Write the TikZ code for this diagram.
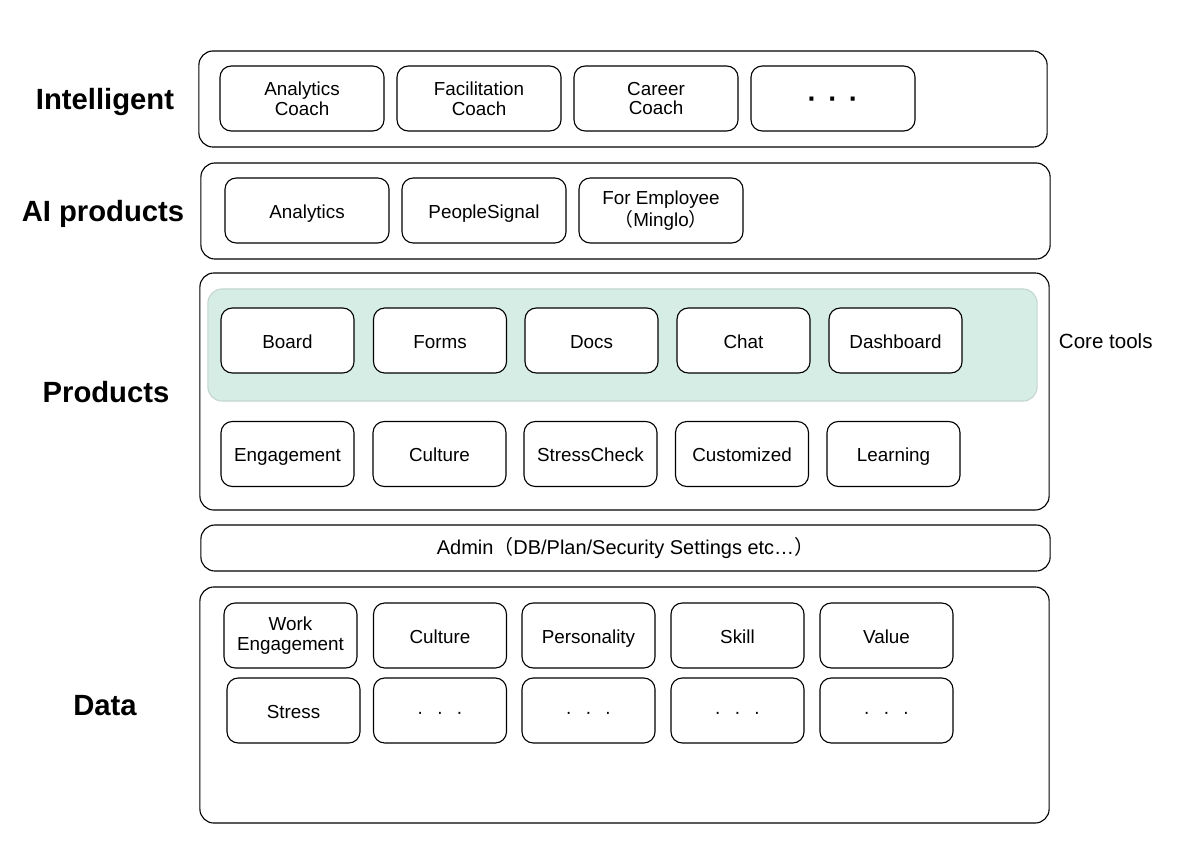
\documentclass[tikz,border=0pt]{standalone}
\usepackage{fontspec}
\setmainfont{Liberation Sans}
\newfontfamily\cjk{Noto Sans CJK JP}
\usetikzlibrary{positioning}

\definecolor{coregreen}{HTML}{D6EDE6}
\definecolor{coreedge}{HTML}{C5D6D0}

\begin{document}
\begin{tikzpicture}[
    x=0.025cm, y=-0.025cm,
    layer/.style={draw, thick, rounded corners=10pt, inner sep=0pt, outer sep=0pt},
    layertitle/.style={font=\fontsize{20.8}{24}\selectfont\bfseries,
        text height=16pt, text depth=1.1pt},
    item/.style={draw, thick, fill=white, rounded corners=8pt, align=center,
        minimum height=1.625cm, inner sep=0pt,
        font=\fontsize{13.4}{14}\selectfont},
    oneline/.style={text height=12pt, text depth=1.3pt},
    wideitem/.style={item, minimum width=4.1cm},
    smallitem/.style={item, minimum width=3.325cm},
    corepanel/.style={fill=coregreen, draw=coreedge, thick, rounded corners=10pt,
        inner sep=0pt, outer sep=0pt}
]

% ---------- Frame ----------
\useasboundingbox (0,0) rectangle (1200,861);

% ---------- Parameters ----------
\def\dots{{\fontsize{13.4}{14}\selectfont ·\hspace{9.5pt}·\hspace{9.5pt}·}}
\def\bigdots{\raisebox{-1.9pt}{\fontsize{20}{20}\selectfont\bfseries ·\hspace{8pt}·\hspace{8pt}·}}

% ---------- Layers ----------
\node[layer, minimum width=21.2cm, minimum height=2.4cm] (intel) at (623,99) {};
\node[layer, minimum width=21.225cm, minimum height=2.4cm] (ai) at (625.5,211) {};
\node[layer, minimum width=21.225cm, minimum height=5.925cm] (prod) at (624.5,391.5) {};
\node[layer, minimum width=21.225cm, minimum height=1.15cm,
    font=\fontsize{14.2}{15}\selectfont] (admin) at (625.5,548)
    {Admin{\cjk （}DB/Plan/Security Settings etc…{\cjk ）}};
\node[layer, minimum width=21.225cm, minimum height=5.9cm] (data) at (624.5,705) {};

% ---------- Layer titles ----------
\node[layertitle] (intellabel) at (105,99) {Intelligent};
\node[layertitle] (ailabel) at (103,211) {AI products};
\node[layertitle] (prodlabel) at (106,392) {Products};
\node[layertitle] (datalabel) at (105,705) {Data};

% ---------- Intelligent ----------
\node[wideitem] (acoach) at (302,98.5) {Analytics\\Coach};
\node[wideitem] (fcoach) at (479,98.5) {Facilitation\\Coach};
\node[wideitem] (ccoach) at (656,98.5) {Career\\Coach};
\node[wideitem, oneline] (morecoach) at (833,98.5) {\bigdots};

% ---------- AI products ----------
\node[wideitem, oneline] (analytics) at (307,210.5) {Analytics};
\node[wideitem, oneline] (signal) at (484,210.5) {PeopleSignal};
\node[wideitem] (employee) at (661,210.5) {For Employee\\{\cjk （}Minglo{\cjk ）}};

% ---------- Products: core tools ----------
\node[corepanel, minimum width=20.725cm, minimum height=2.8cm] (core) at (622.5,345) {};
\node[font=\fontsize{14.6}{16}\selectfont, anchor=west] (corelabel) at (1054,341) {Core tools};

\node[smallitem, oneline] (board) at (287.5,340.5) {Board};
\node[smallitem, oneline] (forms) at (440,340.5) {Forms};
\node[smallitem, oneline] (docs) at (591.5,340.5) {Docs};
\node[smallitem, oneline] (chat) at (743.5,340.5) {Chat};
\node[smallitem, oneline] (dashboard) at (895.5,340.5) {Dashboard};

% ---------- Products: modules ----------
\node[smallitem, oneline] (engagement) at (287.5,454) {Engagement};
\node[smallitem, oneline] (culture) at (439.5,454) {Culture};
\node[smallitem, oneline] (stresscheck) at (590.5,454) {StressCheck};
\node[smallitem, oneline] (customized) at (742,454) {Customized};
\node[smallitem, oneline] (learning) at (893.5,454) {Learning};

% ---------- Data ----------
\node[smallitem] (workeng) at (290.5,635.5) {Work\\Engagement};
\node[smallitem, oneline] (dculture) at (440,635.5) {Culture};
\node[smallitem, oneline] (personality) at (588.5,635.5) {Personality};
\node[smallitem, oneline] (skill) at (737.5,635.5) {Skill};
\node[smallitem, oneline] (value) at (886.5,635.5) {Value};

\node[smallitem, oneline] (stress) at (293.5,710.5) {Stress};
\node[smallitem, oneline] (moreone) at (440,710.5) {\dots};
\node[smallitem, oneline] (moretwo) at (588.5,710.5) {\dots};
\node[smallitem, oneline] (morethree) at (737.5,710.5) {\dots};
\node[smallitem, oneline] (morefour) at (886.5,710.5) {\dots};

\end{tikzpicture}
\end{document}
